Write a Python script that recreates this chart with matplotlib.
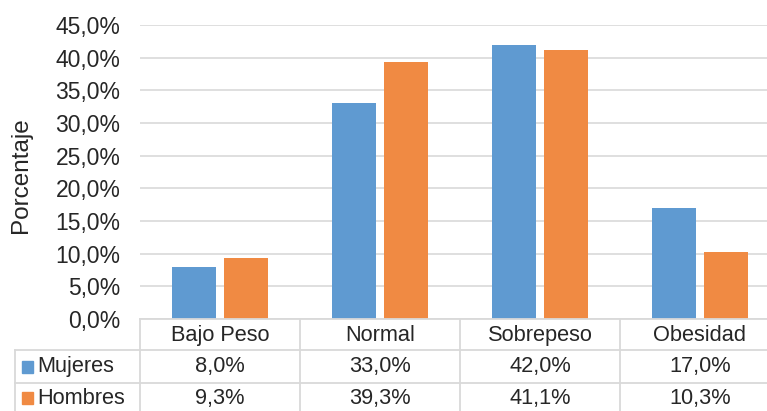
import matplotlib
matplotlib.use("Agg")
import matplotlib.pyplot as plt
from matplotlib.patches import Rectangle

plt.rcParams['font.family'] = ['Liberation Sans', 'DejaVu Sans']

categorias = ["Bajo Peso", "Normal", "Sobrepeso", "Obesidad"]
series = ["Mujeres", "Hombres"]
mujeres = [8.0, 33.0, 42.0, 17.0]
hombres = [9.3, 39.3, 41.1, 10.3]
colores = ["#5F9AD1", "#F08A43"]
yticks = [0, 5, 10, 15, 20, 25, 30, 35, 40, 45]

W, H = 767, 411
TXT = "#262626"
GRID = "#d9d9d9"
FS_AX = 16.5
FS_TAB = 15.7


def pct(v):
    return f"{v:.1f}%".replace(".", ",")


fig = plt.figure(figsize=(W / 100, H / 100), dpi=100)

# plot area in pixel terms: x 140..780 (last column runs past the edge), y 25..319
x0, x1, ytop, ybot = 140, 780, 25, 319
ax = fig.add_axes([x0 / W, (H - ybot) / H, (x1 - x0) / W, (ybot - ytop) / H])
ax.set_xlim(-0.5, 3.5)
ax.set_ylim(0, 45)
for s in ax.spines.values():
    s.set_visible(False)
ax.set_yticks(yticks)
ax.set_yticklabels([pct(t) for t in yticks], fontsize=FS_AX, color=TXT)
ax.tick_params(axis='y', length=0, pad=14)
ax.set_xticks([])
ax.yaxis.grid(True, color=GRID, linewidth=1.2)
ax.set_axisbelow(True)
ax.set_ylabel("Porcentaje", fontsize=17.5, color=TXT)
ax.yaxis.set_label_coords(-0.168, 0.49)

bw = 0.27
off = 0.1625
xs = range(len(categorias))
ax.bar([x - off for x in xs], mujeres, width=bw, color=colores[0], zorder=2)
ax.bar([x + off for x in xs], hombres, width=bw, color=colores[1], zorder=2)

# data table drawn underneath, in pixel coordinates
tab = fig.add_axes([0, 0, 1, 1], facecolor='none')
tab.set_xlim(0, W)
tab.set_ylim(H, 0)
tab.axis('off')

col_edges = [140, 300, 460, 620, 780]
rows = [319, 350, 383, 420]
lk = dict(color=GRID, linewidth=1.3, clip_on=False)
tab.plot([140, W], [rows[0], rows[0]], **lk)
for y in rows[1:3]:
    tab.plot([15, W], [y, y], **lk)
tab.plot([15, 15], [rows[1], H], **lk)
for x in col_edges[:4]:
    tab.plot([x, x], [rows[0], H], **lk)

for i, c in enumerate(categorias):
    cx = (col_edges[i] + col_edges[i + 1]) / 2
    tab.text(cx, (rows[0] + rows[1]) / 2 + 1, c, ha='center', va='center',
             fontsize=FS_TAB, color=TXT)
    tab.text(cx, (rows[1] + rows[2]) / 2, pct(mujeres[i]), ha='center',
             va='center', fontsize=FS_TAB, color=TXT)
    tab.text(cx, (rows[2] + H) / 2 + 1, pct(hombres[i]), ha='center',
             va='center', fontsize=FS_TAB, color=TXT)

for j, (name, col) in enumerate(zip(series, colores)):
    yc = (rows[1] + rows[2]) / 2 if j == 0 else (rows[2] + H) / 2 + 1
    tab.add_patch(Rectangle((22, yc - 6), 11, 12, color=col))
    tab.text(37, yc, name, ha='left', va='center', fontsize=FS_TAB, color=TXT)

fig.savefig("out.png", dpi=100)
